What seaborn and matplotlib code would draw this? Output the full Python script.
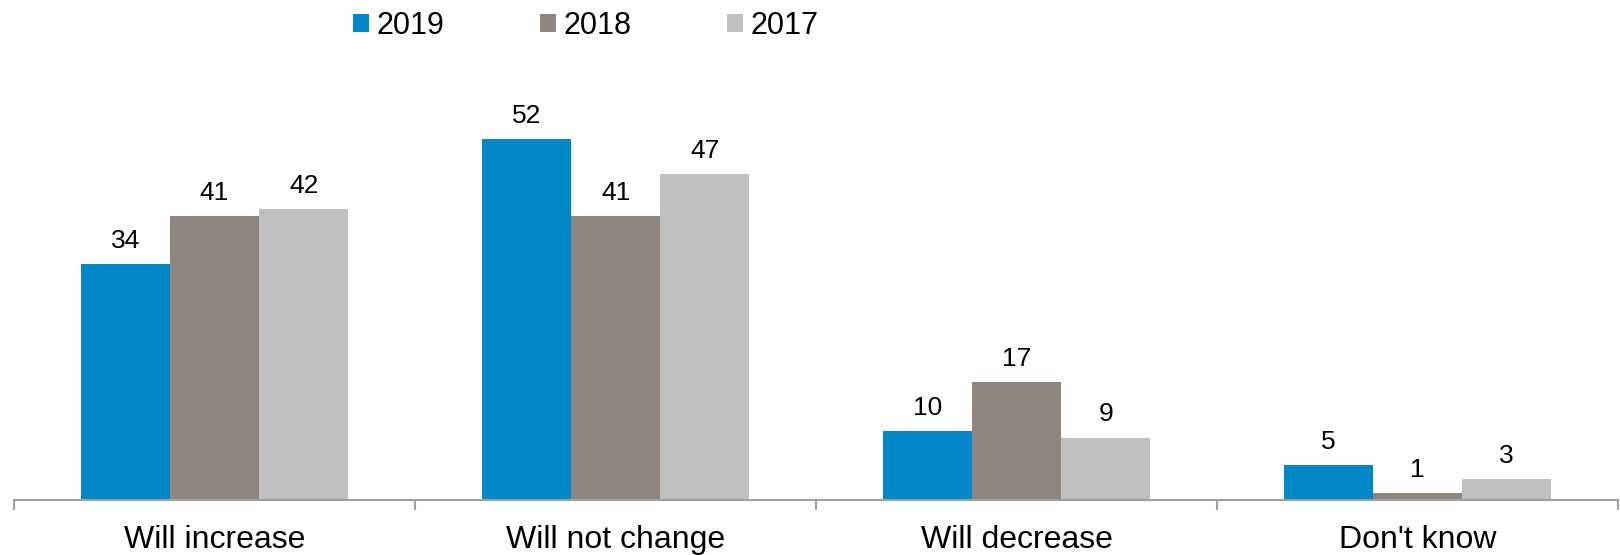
import pandas as pd
import numpy as np
import matplotlib.pyplot as plt
import seaborn as sns

# data
categories = ['Will increase', 'Will not change', 'Will decrease', "Don't know"]
years = ['2019', '2018', '2017']
values_2019 = [34, 52, 10, 5]
values_2018 = [41, 41, 17, 1]
values_2017 = [42, 47, 9, 3]

colors = ['#0088C8', '#92857F', '#BFBFBF']

df = pd.DataFrame({
    'category': categories * 3,
    'year': [y for y in years for _ in categories],
    'value': values_2019 + values_2018 + values_2017,
})

sns.set_theme(style='white')
plt.rcParams['font.family'] = ['Liberation Sans', 'DejaVu Sans']
plt.rcParams['text.color'] = 'black'
plt.rcParams['xtick.labelcolor'] = 'black'

fig = plt.figure(figsize=(16.2, 5.55), dpi=100, facecolor='white')
ax = fig.add_axes([14 / 1620, 55 / 555, 1604 / 1620, 416 / 555])

sns.barplot(data=df, x='category', y='value', hue='year', hue_order=years,
            palette=colors, width=0.667, gap=0, saturation=1, ax=ax,
            edgecolor='none', linewidth=0, errorbar=None)

# 数值标签
for cont in ax.containers:
    ax.bar_label(cont, fmt='%d', padding=8, fontsize=19, color='black')

ax.set_ylim(0, 60)
ax.set_xlim(-0.5, 3.5)
ax.set_xlabel('')
ax.set_ylabel('')
ax.set_yticks([])

for s in ['top', 'right', 'left']:
    ax.spines[s].set_visible(False)
ax.spines['bottom'].set_color('#A0A0A0')
ax.spines['bottom'].set_linewidth(1.5)

ax.set_xticks(range(len(categories)))
ax.set_xticklabels(categories, fontsize=23, color='black')
ax.tick_params(axis='x', which='major', length=0, pad=18)
ax.set_xticks(np.arange(-0.5, len(categories), 1.0), minor=True)
ax.tick_params(axis='x', which='minor', length=7, width=1.5, color='#A0A0A0',
               direction='out', bottom=True)

# legend on top
handles, labels = ax.get_legend_handles_labels()
ax.legend(handles, labels, loc='center left', bbox_to_anchor=(327 / 1604, 1.0 + (555 - 26 - 471) / 416),
          ncol=3, frameon=False, fontsize=22, handlelength=0.5, handleheight=0.5,
          handletextpad=0.25, columnspacing=3.15, borderaxespad=0)

plt.savefig('out.png', dpi=100, facecolor='white')
plt.close()
